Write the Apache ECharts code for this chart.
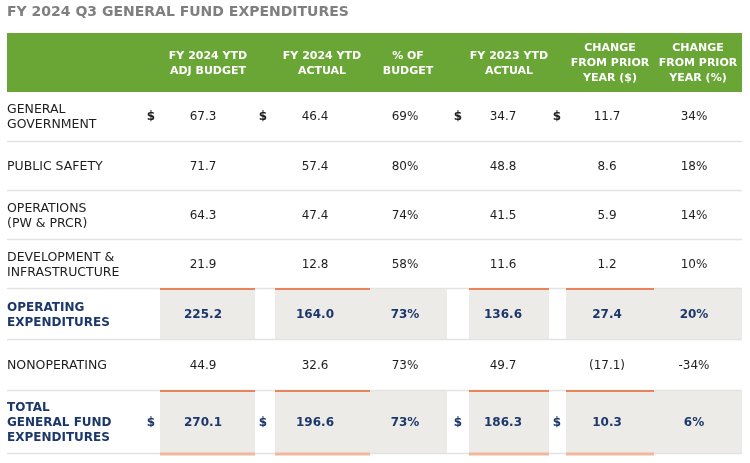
<!DOCTYPE html>
<html><head><meta charset="utf-8">
<script src="https://cdn.jsdelivr.net/npm/echarts@6/dist/echarts.min.js"></script>
<style>html,body{margin:0;padding:0;background:#fff}#c{width:750px;height:463px}</style>
</head><body><div id="c"></div>
<script>
// ---------- DATA ----------
const titleText = 'FY 2024 Q3 GENERAL FUND EXPENDITURES';
const rowLabels = ['GENERAL\nGOVERNMENT', 'PUBLIC SAFETY', 'OPERATIONS\n(PW & PRCR)', 'DEVELOPMENT &\nINFRASTRUCTURE', 'OPERATING\nEXPENDITURES', 'NONOPERATING', 'TOTAL\nGENERAL FUND\nEXPENDITURES'];
const colHeaders = ['FY 2024 YTD\nADJ BUDGET', 'FY 2024 YTD\nACTUAL', '% OF\nBUDGET', 'FY 2023 YTD\nACTUAL', 'CHANGE\nFROM PRIOR\nYEAR ($)', 'CHANGE\nFROM PRIOR\nYEAR (%)'];
const adjBudget2024 = [67.3, 71.7, 64.3, 21.9, 225.2, 44.9, 270.1];
const actual2024 = [46.4, 57.4, 47.4, 12.8, 164.0, 32.6, 196.6];
const pctOfBudget = [69, 80, 74, 58, 73, 73, 73];
const actual2023 = [34.7, 48.8, 41.5, 11.6, 136.6, 49.7, 186.3];
const changeDollar = [11.7, 8.6, 5.9, 1.2, 27.4, -17.1, 10.3];
const changePct = [34, 18, 14, 10, 20, -34, 6];
const summaryRows = [4, 6];
const dollarRows = [0, 6];
const columns = [adjBudget2024, actual2024, pctOfBudget, actual2023, changeDollar, changePct];
const colKinds = ['money', 'money', 'pct', 'money', 'money', 'pct'];

// ---------- LAYOUT / STYLE ----------
const L = {
  left: 7, right: 742, headTop: 33, headBottom: 92,
  rowEdges: [92, 142, 191, 240, 289, 340, 391, 454],
  cellSpans: [[160, 255], [275, 370], [370, 447], [469, 549], [566, 654], [654, 742]],
  headerX: [208, 322, 408, 509, 610, 698],
  valueX: [203, 315, 405, 503, 607, 694],
  dollarX: [151, 263, null, 458, 557, null],
  orangeCols: [true, true, false, true, true, false]
};
const C = {
  green: '#69a636', title: '#7f7f7f', text: '#1e1e1e', navy: '#1c376a',
  shade: '#ecebe8', orange: '#e8845c', orangeLight: '#f2b89f', sep: '#e3e3e3'
};
const FONT = '"DejaVu Sans", sans-serif';

function fmt(v, kind) {
  if (kind === 'pct') return v + '%';
  return v < 0 ? '(' + Math.abs(v).toFixed(1) + ')' : v.toFixed(1);
}

const chart = echarts.init(document.getElementById('c'), null, { renderer: 'canvas' });

const cellData = [];
rowLabels.forEach((_, r) => columns.forEach((_, c) => cellData.push([c, r])));

chart.setOption({
  animation: false,
  title: {
    text: titleText, left: 2, top: 0,
    textStyle: { fontFamily: FONT, fontSize: 14, fontWeight: 'bold', color: C.title }
  },
  grid: { left: 0, right: 0, top: 0, bottom: 0 },
  xAxis: { type: 'value', min: 0, max: 750, show: false },
  yAxis: { type: 'value', min: 0, max: 463, inverse: true, show: false },
  series: [
    { // header band + header text
      type: 'custom', z: 1, silent: true,
      data: colHeaders.map((h, i) => [i]),
      renderItem(params, api) {
        const i = api.value(0);
        const children = [];
        if (i === 0) {
          const p0 = api.coord([L.left, L.headTop]), p1 = api.coord([L.right, L.headBottom]);
          children.push({ type: 'rect', shape: { x: p0[0], y: p0[1], width: p1[0] - p0[0], height: p1[1] - p0[1] }, style: { fill: C.green } });
        }
        const pt = api.coord([L.headerX[i], (L.headTop + L.headBottom) / 2 + 1]);
        children.push({ type: 'text', z2: 5, x: pt[0], y: pt[1], style: {
          text: colHeaders[i], fill: '#fff', font: 'bold 11px ' + FONT,
          align: 'center', verticalAlign: 'middle', lineHeight: 15 } });
        return { type: 'group', children };
      }
    },
    { // summary row shading
      type: 'custom', z: 1, silent: true,
      data: summaryRows.map(r => [r]),
      renderItem(params, api) {
        const r = api.value(0);
        const y0 = L.rowEdges[r], y1 = L.rowEdges[r + 1];
        const children = L.cellSpans.map(s => {
          const a = api.coord([s[0], y0]), b = api.coord([s[1], y1]);
          return { type: 'rect', shape: { x: a[0], y: a[1], width: b[0] - a[0], height: b[1] - a[1] }, style: { fill: C.shade } };
        });
        return { type: 'group', children };
      }
    },
    { // row labels + separators
      type: 'custom', z: 2, silent: true,
      data: rowLabels.map((l, i) => [i]),
      renderItem(params, api) {
        const r = api.value(0);
        const y0 = L.rowEdges[r], y1 = L.rowEdges[r + 1];
        const bold = summaryRows.indexOf(r) >= 0;
        const a = api.coord([L.left, y1]), b = api.coord([L.right, y1]);
        const t = api.coord([L.left, (y0 + y1) / 2 + 0.5]);
        return { type: 'group', children: [
          { type: 'line', shape: { x1: a[0], y1: a[1] - 0.5, x2: b[0], y2: b[1] - 0.5 }, style: { stroke: C.sep, lineWidth: 1.5 } },
          { type: 'text', x: t[0], y: t[1], style: {
            text: rowLabels[r], fill: bold ? C.navy : C.text,
            font: bold ? 'bold 12px ' + FONT : '12.5px ' + FONT,
            align: 'left', verticalAlign: 'middle', lineHeight: 15 } }
        ] };
      }
    },
    { // cells
      type: 'custom', z: 3, silent: true,
      data: cellData,
      renderItem(params, api) {
        const c = api.value(0), r = api.value(1);
        const y0 = L.rowEdges[r], y1 = L.rowEdges[r + 1], ym = (y0 + y1) / 2;
        const bold = summaryRows.indexOf(r) >= 0;
        const font = (bold ? 'bold ' : '') + '12px ' + FONT;
        const fill = bold ? C.navy : C.text;
        const children = [];
        if (bold && L.orangeCols[c]) {
          const s = L.cellSpans[c];
          const a = api.coord([s[0], y0]), b = api.coord([s[1], y0]);
          children.push({ type: 'rect', shape: { x: a[0], y: a[1] - 1, width: b[0] - a[0], height: 2 }, style: { fill: C.orange } });
          if (r === rowLabels.length - 1) {
            const a2 = api.coord([s[0], y1]), b2 = api.coord([s[1], y1]);
            children.push({ type: 'rect', shape: { x: a2[0], y: a2[1] - 1.5, width: b2[0] - a2[0], height: 3 }, style: { fill: C.orangeLight } });
          }
        }
        const p = api.coord([L.valueX[c], ym]);
        children.push({ type: 'text', x: p[0], y: p[1], style: {
          text: fmt(columns[c][r], colKinds[c]), fill, font, align: 'center', verticalAlign: 'middle' } });
        if (dollarRows.indexOf(r) >= 0 && L.dollarX[c] != null) {
          const d = api.coord([L.dollarX[c], ym]);
          children.push({ type: 'text', x: d[0], y: d[1], style: {
            text: '$', fill, font: 'bold 12px ' + FONT, align: 'center', verticalAlign: 'middle' } });
        }
        return { type: 'group', children };
      }
    }
  ]
});
</script></body></html>
